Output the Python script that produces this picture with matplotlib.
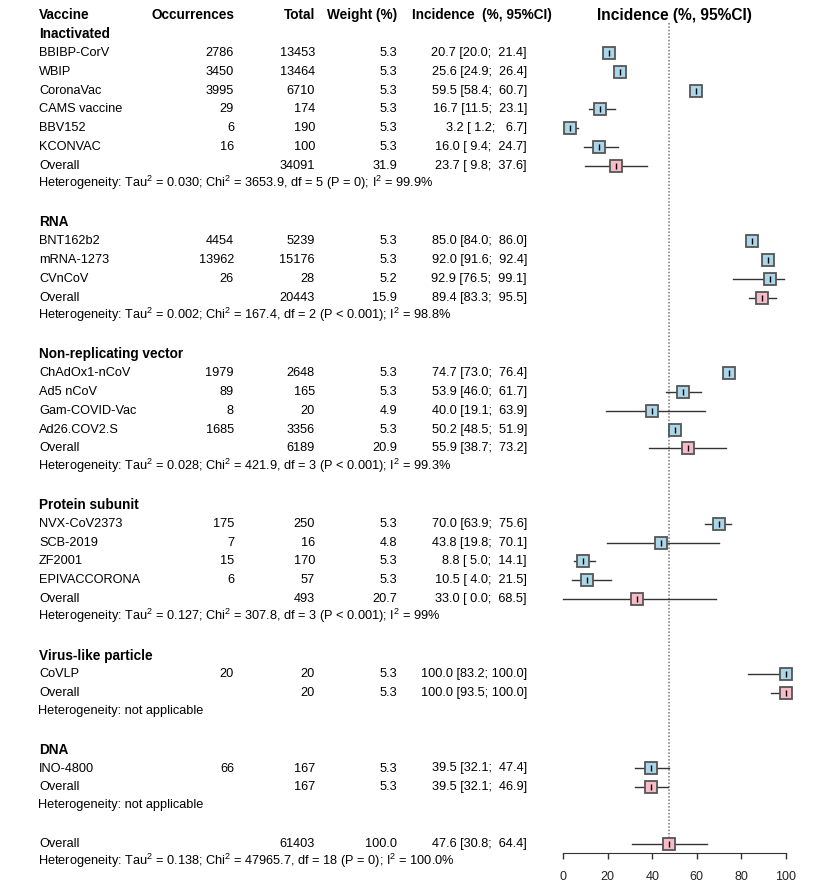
import numpy as np
import matplotlib
matplotlib.use("Agg")
import matplotlib.pyplot as plt

plt.rcParams["font.family"] = ["Liberation Sans", "DejaVu Sans"]
plt.rcParams["mathtext.fontset"] = "custom"
plt.rcParams["mathtext.rm"] = "Liberation Sans"
plt.rcParams["mathtext.it"] = "Liberation Sans"
plt.rcParams["mathtext.default"] = "rm"

# data
groups = ["Inactivated", "RNA", "Non-replicating vector", "Protein subunit",
          "Virus-like particle", "DNA"]
group_sizes = [6, 3, 4, 4, 1, 1]

vaccines = ["BBIBP-CorV", "WBIP", "CoronaVac", "CAMS vaccine", "BBV152", "KCONVAC",
            "BNT162b2", "mRNA-1273", "CVnCoV",
            "ChAdOx1-nCoV", "Ad5 nCoV", "Gam-COVID-Vac", "Ad26.COV2.S",
            "NVX-CoV2373", "SCB-2019", "ZF2001", "EPIVACCORONA",
            "CoVLP",
            "INO-4800"]
occurrences = [2786, 3450, 3995, 29, 6, 16,
               4454, 13962, 26,
               1979, 89, 8, 1685,
               175, 7, 15, 6,
               20,
               66]
totals = [13453, 13464, 6710, 174, 190, 100,
          5239, 15176, 28,
          2648, 165, 20, 3356,
          250, 16, 170, 57,
          20,
          167]
weights = [5.3, 5.3, 5.3, 5.3, 5.3, 5.3,
           5.3, 5.3, 5.2,
           5.3, 5.3, 4.9, 5.3,
           5.3, 4.8, 5.3, 5.3,
           5.3,
           5.3]
incidence = [20.7, 25.6, 59.5, 16.7, 3.2, 16.0,
             85.0, 92.0, 92.9,
             74.7, 53.9, 40.0, 50.2,
             70.0, 43.8, 8.8, 10.5,
             100.0,
             39.5]
ci_low = [20.0, 24.9, 58.4, 11.5, 1.2, 9.4,
          84.0, 91.6, 76.5,
          73.0, 46.0, 19.1, 48.5,
          63.9, 19.8, 5.0, 4.0,
          83.2,
          32.1]
ci_high = [21.4, 26.4, 60.7, 23.1, 6.7, 24.7,
           86.0, 92.4, 99.1,
           76.4, 61.7, 63.9, 51.9,
           75.6, 70.1, 14.1, 21.5,
           100.0,
           47.4]

sub_total = [34091, 20443, 6189, 493, 20, 167]
sub_weight = [31.9, 15.9, 20.9, 20.7, 5.3, 5.3]
sub_est = [23.7, 89.4, 55.9, 33.0, 100.0, 39.5]
sub_low = [9.8, 83.3, 38.7, 0.0, 93.5, 32.1]
sub_high = [37.6, 95.5, 73.2, 68.5, 100.0, 46.9]
heterogeneity = [
    r"Heterogeneity: Tau$^2$ = 0.030; Chi$^2$ = 3653.9, df = 5 (P = 0); I$^2$ = 99.9%",
    r"Heterogeneity: Tau$^2$ = 0.002; Chi$^2$ = 167.4, df = 2 (P < 0.001); I$^2$ = 98.8%",
    r"Heterogeneity: Tau$^2$ = 0.028; Chi$^2$ = 421.9, df = 3 (P < 0.001); I$^2$ = 99.3%",
    r"Heterogeneity: Tau$^2$ = 0.127; Chi$^2$ = 307.8, df = 3 (P < 0.001); I$^2$ = 99%",
    "Heterogeneity: not applicable",
    "Heterogeneity: not applicable",
]

overall_total = 61403
overall_weight = 100.0
overall_est = 47.6
overall_low = 30.8
overall_high = 64.4
overall_het = r"Heterogeneity: Tau$^2$ = 0.138; Chi$^2$ = 47965.7, df = 18 (P = 0); I$^2$ = 100.0%"

x_ticks = [0, 20, 40, 60, 80, 100]


def ci_text(e, l, h):
    return f"{e:.1f} [{l:4.1f}; {h:5.1f}]"


# layout (pixels -> rows)
W, H = 828, 888
ROW0, STEP = 15.3, 18.83
top_row = -ROW0 / STEP
bot_row = (H - ROW0) / STEP

X_NAME, X_OCC, X_TOT, X_WT, X_CI = 39, 234, 315, 397, 527
FS = 9.2
FSB = 9.8
BLUE, PINK, EDGE = "#a9d6e8", "#f7bcc8", "#555555"

fig = plt.figure(figsize=(W / 100, H / 100), dpi=100)
tab = fig.add_axes([0, 0, 1, 1])
tab.set_xlim(0, W)
tab.set_ylim(bot_row, top_row)
tab.axis("off")

fx0, fx1 = 563.3, 785.7
ax = fig.add_axes([fx0 / W, 0, (fx1 - fx0) / W, 1])
ax.set_xlim(0, 100)
ax.set_ylim(bot_row, top_row)
ax.patch.set_alpha(0)

# header
hdr = dict(fontsize=FSB, fontweight="bold", va="center")
tab.text(X_NAME, 0, "Vaccine", ha="left", **hdr)
tab.text(X_OCC, 0, "Occurrences", ha="right", **hdr)
tab.text(X_TOT, 0, "Total", ha="right", **hdr)
tab.text(X_WT, 0, "Weight (%)", ha="right", **hdr)
tab.text(412, 0, "Incidence  (%, 95%CI)", ha="left", **hdr)
tab.text(674, 0, "Incidence (%, 95%CI)", ha="center", va="center",
         fontsize=11.2, fontweight="bold")


def draw_marker(row, e, l, h, color):
    ax.plot([l, h], [row, row], color="#333333", lw=1, zorder=2, clip_on=False)
    ax.plot([e], [row], marker="s", ms=8, mfc=color, mec=EDGE, mew=1.3,
            zorder=3, clip_on=False)
    ax.plot([e], [row], marker="|", ms=4, color="black", mew=1, zorder=4,
            clip_on=False)


row = 1
k = 0
for g, n in enumerate(group_sizes):
    tab.text(X_NAME, row, groups[g], ha="left", va="center", fontsize=FSB,
             fontweight="bold")
    row += 1
    for i in range(k, k + n):
        tab.text(X_NAME, row, vaccines[i], ha="left", va="center", fontsize=FS)
        tab.text(X_OCC, row, str(occurrences[i]), ha="right", va="center", fontsize=FS)
        tab.text(X_TOT, row, str(totals[i]), ha="right", va="center", fontsize=FS)
        tab.text(X_WT, row, f"{weights[i]:.1f}", ha="right", va="center", fontsize=FS)
        tab.text(X_CI, row, ci_text(incidence[i], ci_low[i], ci_high[i]),
                 ha="right", va="center", fontsize=FS)
        draw_marker(row, incidence[i], ci_low[i], ci_high[i], BLUE)
        row += 1
    k += n
    tab.text(X_NAME, row, "Overall", ha="left", va="center", fontsize=FS)
    tab.text(X_TOT, row, str(sub_total[g]), ha="right", va="center", fontsize=FS)
    tab.text(X_WT, row, f"{sub_weight[g]:.1f}", ha="right", va="center", fontsize=FS)
    tab.text(X_CI, row, ci_text(sub_est[g], sub_low[g], sub_high[g]),
             ha="right", va="center", fontsize=FS)
    draw_marker(row, sub_est[g], sub_low[g], sub_high[g], PINK)
    row += 1
    tab.text(X_NAME - 1, row - 0.08, heterogeneity[g], ha="left", va="center",
             fontsize=FS)
    row += 2

# overall
tab.text(X_NAME, row, "Overall", ha="left", va="center", fontsize=FS)
tab.text(X_TOT, row, str(overall_total), ha="right", va="center", fontsize=FS)
tab.text(X_WT, row, f"{overall_weight:.1f}", ha="right", va="center", fontsize=FS)
tab.text(X_CI, row, ci_text(overall_est, overall_low, overall_high),
         ha="right", va="center", fontsize=FS)
draw_marker(row, overall_est, overall_low, overall_high, PINK)
tab.text(X_NAME - 1, row + 1 - 0.08, overall_het, ha="left", va="center",
         fontsize=FS)

# reference line
ax.vlines(overall_est, 0.4, row - 0.3, colors="#777777", linestyles=(0, (1, 1.2)),
          lw=1.1, zorder=1)

# axis
axis_row = (852 - ROW0 + 1.3) / STEP
for s in ["top", "right", "left"]:
    ax.spines[s].set_visible(False)
ax.spines["bottom"].set_position(("data", axis_row))
ax.spines["bottom"].set_bounds(0, 100)
ax.spines["bottom"].set_color("#333333")
ax.set_yticks([])
ax.set_xticks(x_ticks)
ax.tick_params(axis="x", direction="out", length=4.5, width=1, colors="#333333",
               labelcolor="#222222", labelsize=9, pad=8)

fig.savefig("out.png", dpi=100)
